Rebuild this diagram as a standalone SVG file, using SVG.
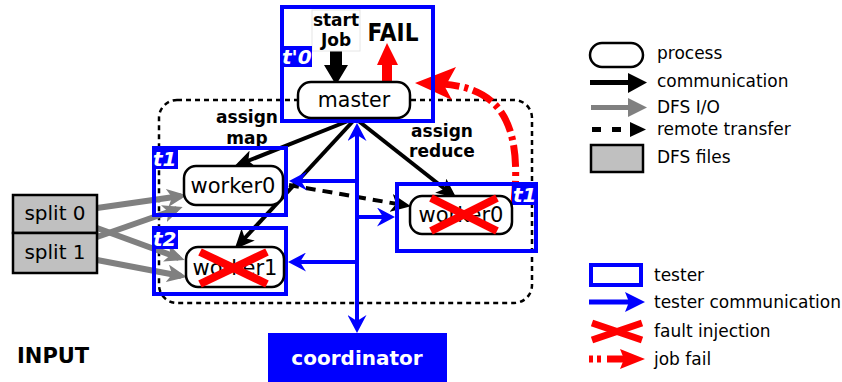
<svg xmlns="http://www.w3.org/2000/svg" width="842" height="382" viewBox="0 0 842 382">
<style>
text{font-family:"DejaVu Sans","Liberation Sans",sans-serif;}
.node{fill:#fff;stroke:#000;stroke-width:2.5;}
.tester{fill:none;stroke:#00f;stroke-width:4;}
.tlabel{fill:#00f;}
.tl{fill:#fff;font-weight:bold;font-style:italic;font-size:20px;}
.nt{font-size:21px;text-anchor:middle;fill:#000;}
.bold{font-weight:bold;font-size:17px;text-anchor:middle;fill:#000;}
.comm{stroke:#000;stroke-width:4;fill:none;}
.dfs{stroke:#808080;stroke-width:6;fill:none;}
.blue{stroke:#00f;stroke-width:4;fill:none;}
.x{stroke:#f00;stroke-width:8;}
.leg{font-size:17px;fill:#000;}
</style>
<defs>
<marker id="mb" markerUnits="userSpaceOnUse" markerWidth="20" markerHeight="18" refX="15" refY="9" orient="auto" viewBox="0 0 20 18"><path d="M0,0 L20,9 L0,18 L5,9 z" fill="#000"/></marker>
<marker id="mg" markerUnits="userSpaceOnUse" markerWidth="20" markerHeight="18" refX="14" refY="9" orient="auto" viewBox="0 0 20 18"><path d="M0,0 L20,9 L0,18 L5,9 z" fill="#808080"/></marker>
<marker id="mu" markerUnits="userSpaceOnUse" markerWidth="18" markerHeight="19" refX="14" refY="9.5" orient="auto-start-reverse" viewBox="0 0 18 19"><path d="M0,0 L18,9.5 L0,19 L6,9.5 z" fill="#00f"/></marker>
</defs>

<!-- dashed cluster -->
<rect x="159" y="100" width="373" height="203" rx="18" fill="none" stroke="#000" stroke-width="2.5" stroke-dasharray="5 4"/>

<g id="connectors">
  <!-- DFS I/O -->
  <line class="dfs" x1="97" y1="208" x2="181" y2="196" marker-end="url(#mg)"/>
  <line class="dfs" x1="97" y1="237" x2="177" y2="209" marker-end="url(#mg)"/>
  <line class="dfs" x1="97" y1="228" x2="179" y2="258" marker-end="url(#mg)"/>
  <line class="dfs" x1="97" y1="260" x2="181" y2="276" marker-end="url(#mg)"/>
  <!-- communication -->
  <line class="comm" x1="353" y1="119" x2="239" y2="164.5" marker-end="url(#mb)"/>
  <line class="comm" x1="355" y1="119" x2="238" y2="245.5" marker-end="url(#mb)"/>
  <line class="comm" x1="356" y1="119" x2="452.5" y2="195" marker-end="url(#mb)"/>
  <!-- remote transfer -->
  <line class="comm" x1="289" y1="185" x2="406" y2="205.5" stroke-dasharray="10 7" marker-end="url(#mb)"/>
  <!-- tester communication -->
  <line class="blue" x1="357" y1="127" x2="357" y2="329" marker-start="url(#mu)" marker-end="url(#mu)"/>
  <line class="blue" x1="357" y1="181" x2="293" y2="181" marker-end="url(#mu)"/>
  <line class="blue" x1="357" y1="217" x2="391" y2="217" marker-end="url(#mu)"/>
  <line class="blue" x1="357" y1="262" x2="292" y2="262" marker-end="url(#mu)"/>
  <!-- start job -->
  <polygon points="330,51 342,51 342,65 348,65 336,85 324,65 330,65" fill="#000"/>
  <!-- FAIL -->
  <polygon points="382,83 392,83 392,65 398,65 387,43 377,65 382,65" fill="#f00"/>
  <!-- job fail arc -->
  <path d="M514 203 C522 125, 502 88, 442 84" fill="none" stroke="#f00" stroke-width="7" stroke-dasharray="22 5 4 5"/>
  <polygon points="415,83 456,67 445,87 452,100" fill="#f00"/>
</g>

<g id="master-tester">
  <rect class="tester" x="282" y="7" width="151" height="114"/>
  <rect x="312" y="10" width="48" height="41" fill="#fff" stroke="#e6e6e6" stroke-width="1"/>
  <text class="bold" x="336" y="26">start</text>
  <text class="bold" x="336" y="46">Job</text>
  <text x="393" y="41" font-size="24" font-weight="bold" text-anchor="middle" textLength="51" lengthAdjust="spacingAndGlyphs">FAIL</text>
  <rect class="tlabel" x="280" y="46" width="32" height="21"/>
  <text class="tl" x="282" y="64">t'0</text>
</g>
<g id="master">
  <rect class="node" x="298" y="82" width="112" height="36" rx="13"/>
  <text class="nt" x="354" y="107" style="font-size:20.5px">master</text>
</g>

<text class="bold" x="247" y="123">assign</text>
<text class="bold" x="247" y="144">map</text>
<text class="bold" x="442" y="137">assign</text>
<text class="bold" x="442" y="157">reduce</text>

<g id="tester-t1">
  <rect class="tester" x="154" y="148" width="132" height="67"/>
  <rect class="tlabel" x="152" y="146" width="26" height="23"/>
  <text class="tl" x="153" y="166">t1</text>
</g>
<g id="worker0">
  <rect class="node" x="184" y="166" width="99" height="39" rx="12"/>
  <text class="nt" x="233" y="193">worker0</text>
</g>

<g id="tester-t2">
  <rect class="tester" x="154" y="228" width="132" height="66"/>
  <rect class="tlabel" x="152" y="226" width="26" height="23"/>
  <text class="tl" x="153" y="246">t2</text>
</g>
<g id="worker1">
  <rect class="node" x="186" y="247" width="98" height="40" rx="12"/>
  <text class="nt" x="235" y="275">worker1</text>
  <line class="x" x1="200" y1="252" x2="267" y2="284"/>
  <line class="x" x1="200" y1="284" x2="267" y2="252"/>
</g>

<g id="tester-t1-reduce">
  <rect class="tester" x="397" y="184" width="139" height="67"/>
  <rect class="tlabel" x="512" y="182" width="26" height="23"/>
  <text class="tl" x="513" y="202">t1</text>
</g>
<g id="worker0-reduce">
  <rect class="node" x="410" y="196" width="102" height="38" rx="12"/>
  <text class="nt" x="461" y="222">worker0</text>
  <line class="x" x1="431" y1="198" x2="497" y2="231"/>
  <line class="x" x1="431" y1="231" x2="497" y2="198"/>
</g>

<g id="split0">
  <rect x="13" y="195" width="84" height="38" fill="#c0c0c0" stroke="#000" stroke-width="2.5"/>
  <text class="nt" x="55" y="220" style="font-size:20px">split 0</text>
</g>
<g id="split1">
  <rect x="13" y="233" width="84" height="40" fill="#c0c0c0" stroke="#000" stroke-width="2.5"/>
  <text class="nt" x="55" y="259" style="font-size:20px">split 1</text>
</g>
<text x="17" y="363" font-size="21" font-weight="bold" fill="#000">INPUT</text>

<g id="coordinator">
  <rect x="268" y="333" width="179" height="49" fill="#00f"/>
  <text x="357" y="365" font-size="20" font-weight="bold" fill="#fff" text-anchor="middle">coordinator</text>
</g>

<g id="legend">
  <rect class="node" x="590" y="43" width="53" height="24" rx="12"/>
  <text class="leg" x="657" y="59">process</text>
  <line x1="590" y1="82.5" x2="632" y2="82.5" stroke="#000" stroke-width="5"/>
  <polygon points="628,73 647,82.5 628,93" fill="#000"/>
  <text class="leg" x="657" y="87">communication</text>
  <line x1="591" y1="107.5" x2="632" y2="107.5" stroke="#808080" stroke-width="5"/>
  <polygon points="628,98 647,107.5 628,117" fill="#808080"/>
  <text class="leg" x="657" y="113">DFS I/O</text>
  <line x1="592" y1="129.5" x2="625" y2="129.5" stroke="#000" stroke-width="5" stroke-dasharray="9 11"/>
  <polygon points="630,122 646,129.5 630,137" fill="#000"/>
  <text class="leg" x="657" y="135">remote transfer</text>
  <rect x="591" y="145" width="52" height="27" fill="#c0c0c0" stroke="#000" stroke-width="2.5"/>
  <text class="leg" x="657" y="163">DFS files</text>

  <rect x="591" y="265" width="50" height="20" fill="none" stroke="#00f" stroke-width="4"/>
  <text class="leg" x="654" y="281">tester</text>
  <line x1="589" y1="302" x2="629" y2="302" stroke="#00f" stroke-width="5"/>
  <polygon points="625,292 645,302 625,312 629,302" fill="#00f"/>
  <text class="leg" x="654" y="308">tester communication</text>
  <line x1="592" y1="323" x2="642" y2="340" stroke="#f00" stroke-width="7"/>
  <line x1="592" y1="340" x2="642" y2="323" stroke="#f00" stroke-width="7"/>
  <text class="leg" x="654" y="337">fault injection</text>
  <line x1="589" y1="359" x2="602" y2="359" stroke="#f00" stroke-width="7" stroke-dasharray="4 4"/>
  <line x1="607" y1="359" x2="625" y2="359" stroke="#f00" stroke-width="7"/>
  <polygon points="620,349 645,359 620,369 624,359" fill="#f00"/>
  <text class="leg" x="654" y="365">job fail</text>
</g>
</svg>
